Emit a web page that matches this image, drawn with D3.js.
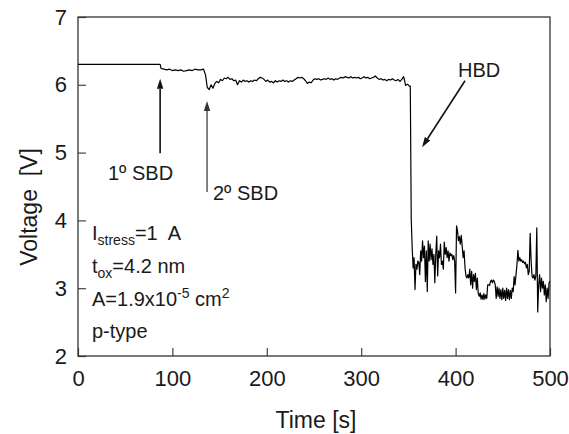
<!DOCTYPE html>
<html><head><meta charset="utf-8">
<script src="https://cdn.jsdelivr.net/npm/d3@7"></script>
<style>
body{margin:0;background:#fff}
svg{display:block}
text{font-family:"Liberation Sans",Arial,sans-serif;fill:#1a1a1a;white-space:pre}
</style>
</head><body>
<svg id="c" width="569" height="434"></svg>
<script>
// ---- data ----
const xTicks = [0, 100, 200, 300, 400, 500];
const yTicks = [2, 3, 4, 5, 6, 7];

// before first soft breakdown
const preStart = 0, preStep = 29;
const preValues = [6.30, 6.30, 6.30, 6.30];

// after 1º SBD
const sbd1Start = 88, sbd1Step = 3;
const sbd1Values = [6.24,6.23,6.22,6.23,6.21,6.22,6.21,6.22,6.20,6.21,6.22,6.21,6.23,6.22,6.22,6.23];

// after 2º SBD
const sbd2Start = 135, sbd2Step = 2;
const sbd2Values = [
  6.15,5.96,5.93,6.00,5.95,6.02,6.05,6.03,6.08,6.06,
  6.10,6.09,6.11,6.08,6.09,6.06,6.07,6.00,6.06,6.04,
  6.07,6.05,6.06,6.04,6.06,6.05,6.07,6.06,6.09,6.11,
  6.10,6.08,6.05,6.07,6.04,6.05,6.03,6.06,6.04,6.06,
  6.05,6.07,6.05,6.06,6.04,6.06,6.05,6.07,6.09,6.11,
  6.10,6.11,6.09,6.06,6.02,6.04,6.03,6.07,6.09,6.08,
  6.09,6.07,6.08,6.09,6.08,6.10,6.08,6.09,6.07,6.09,
  6.08,6.10,6.11,6.10,6.12,6.11,6.10,6.12,6.10,6.11,
  6.10,6.11,6.09,6.10,6.12,6.10,6.11,6.09,6.10,6.11,
  6.13,6.10,6.08,6.09,6.07,6.08,6.06,6.08,6.07,6.09,
  6.07,6.06,6.08,6.05,6.08,6.12,5.99,6.01,5.98
];

// after hard breakdown
const hbdStart = 352, hbdStep = 1;
const hbdValues = [
  5.98,4.03,3.60,3.30,3.45,2.98,3.35,3.28,3.40,3.38,
  3.20,3.55,3.40,3.70,3.45,3.62,3.10,3.55,2.95,3.70,
  3.40,3.65,3.42,3.58,3.35,3.50,3.08,3.50,3.77,3.18,
  3.55,3.45,3.65,3.35,3.40,3.28,3.68,3.50,3.60,3.45,
  3.55,3.40,3.52,3.48,3.50,3.42,3.48,3.40,2.93,3.92,
  3.85,3.70,3.76,3.65,3.78,3.62,3.45,3.55,3.30,3.18,
  3.15,3.20,3.15,3.28,3.05,3.25,3.00,3.20,3.10,3.22,
  2.98,3.15,2.92,2.88,2.93,2.84,2.90,2.83,2.92,2.84,
  2.90,2.85,3.05,3.05,3.04,3.10,3.12,3.08,3.12,3.10,
  3.05,2.85,3.02,2.88,3.00,2.85,2.98,2.83,3.00,2.85,
  2.97,2.82,3.00,2.85,2.98,2.83,2.97,2.85,3.00,2.95,
  3.17,3.05,3.20,3.35,3.56,3.40,3.45,3.40,3.42,3.38,
  3.40,3.36,3.38,3.30,3.35,3.20,3.25,3.81,3.40,3.18,
  3.15,3.20,3.12,3.18,3.89,2.65,3.05,3.20,2.95,3.15,
  3.00,3.10,2.90,3.05,2.80,3.00,2.85,3.08,3.10
];

// ---- chart ----
const svg = d3.select("#c");
const x = d3.scaleLinear().domain([0, 500]).range([78, 550]);
const y = d3.scaleLinear().domain([2, 7]).range([356, 17]);

function seg(start, step, vals) { return vals.map((v, i) => ({ t: start + i * step, v })); }
const series = [].concat(
  seg(preStart, preStep, preValues),
  seg(sbd1Start, sbd1Step, sbd1Values),
  seg(sbd2Start, sbd2Step, sbd2Values),
  seg(hbdStart, hbdStep, hbdValues)
);

// axes
const gx = svg.append("g").attr("transform", `translate(0,${y(2)})`)
  .call(d3.axisBottom(x).tickValues(xTicks).tickFormat(d3.format("d"))
    .tickSizeInner(-8).tickSizeOuter(0).tickPadding(14));
const gy = svg.append("g").attr("transform", `translate(${x(0)},0)`)
  .call(d3.axisLeft(y).tickValues(yTicks).tickFormat(d3.format("d"))
    .tickSizeInner(-8).tickSizeOuter(0).tickPadding(11));
[gx, gy].forEach(g => {
  g.select(".domain").remove();
  g.selectAll(".tick line").attr("stroke", "#444").attr("stroke-width", 1.2);
  g.selectAll(".tick text").attr("font-size", 22).attr("fill", "#1a1a1a")
    .attr("font-family", '"Liberation Sans",Arial,sans-serif');
});

// frame
svg.append("rect").attr("x", x(0)).attr("y", y(7))
  .attr("width", x(500) - x(0)).attr("height", y(2) - y(7))
  .attr("fill", "none").attr("stroke", "#333").attr("stroke-width", 1.3);

// trace
svg.append("path").datum(series)
  .attr("fill", "none").attr("stroke", "#000").attr("stroke-width", 1.2)
  .attr("stroke-linejoin", "round")
  .attr("d", d3.line().x(d => x(d.t)).y(d => y(d.v)));

// arrows
function arrow(t1, v1, t2, v2, color, w) {
  const x1 = x(t1), y1 = y(v1), x2 = x(t2), y2 = y(v2);
  const a = Math.atan2(y2 - y1, x2 - x1), L = 10, H = 3.2;
  const bx = x2 - L * Math.cos(a), by = y2 - L * Math.sin(a);
  svg.append("line").attr("x1", x1).attr("y1", y1).attr("x2", bx).attr("y2", by)
    .attr("stroke", color).attr("stroke-width", w);
  svg.append("path").attr("fill", color)
    .attr("d", `M${x2},${y2}L${bx + H * Math.sin(a)},${by - H * Math.cos(a)}L${bx - H * Math.sin(a)},${by + H * Math.cos(a)}Z`);
}
arrow(87, 4.99, 87, 6.09, "#111", 1.6);
arrow(136.7, 4.42, 136.7, 5.76, "#333", 1.2);
arrow(410, 6.06, 364.5, 5.08, "#111", 1.6);

// annotation labels
svg.append("text").attr("x", 108).attr("y", 180).attr("font-size", 20).text("1º SBD");
svg.append("text").attr("x", 213).attr("y", 200).attr("font-size", 20).text("2º SBD");
svg.append("text").attr("x", 458).attr("y", 77).attr("font-size", 20).text("HBD");

// conditions
const c1 = svg.append("text").attr("x", 92).attr("y", 240).attr("font-size", 20);
c1.append("tspan").text("I");
c1.append("tspan").attr("font-size", 14).attr("dy", 5).text("stress");
c1.append("tspan").attr("dy", -5).text("=1  A");
const c2 = svg.append("text").attr("x", 92).attr("y", 273).attr("font-size", 20);
c2.append("tspan").text("t");
c2.append("tspan").attr("font-size", 14).attr("dy", 5).text("ox");
c2.append("tspan").attr("dy", -5).text("=4.2 nm");
const c3 = svg.append("text").attr("x", 92).attr("y", 306).attr("font-size", 20);
c3.append("tspan").text("A=1.9x10");
c3.append("tspan").attr("font-size", 14).attr("dy", -8).text("-5");
c3.append("tspan").attr("dy", 8).text(" cm");
c3.append("tspan").attr("font-size", 14).attr("dy", -8).text("2");
svg.append("text").attr("x", 92).attr("y", 338).attr("font-size", 20).text("p-type");

// axis titles
svg.append("text").attr("x", 316).attr("y", 428).attr("font-size", 23)
  .attr("text-anchor", "middle").text("Time [s]");
svg.append("text").attr("transform", "translate(37,207) rotate(-90)")
  .attr("font-size", 23).attr("text-anchor", "middle").text("Voltage  [V]");
</script>
</body></html>
